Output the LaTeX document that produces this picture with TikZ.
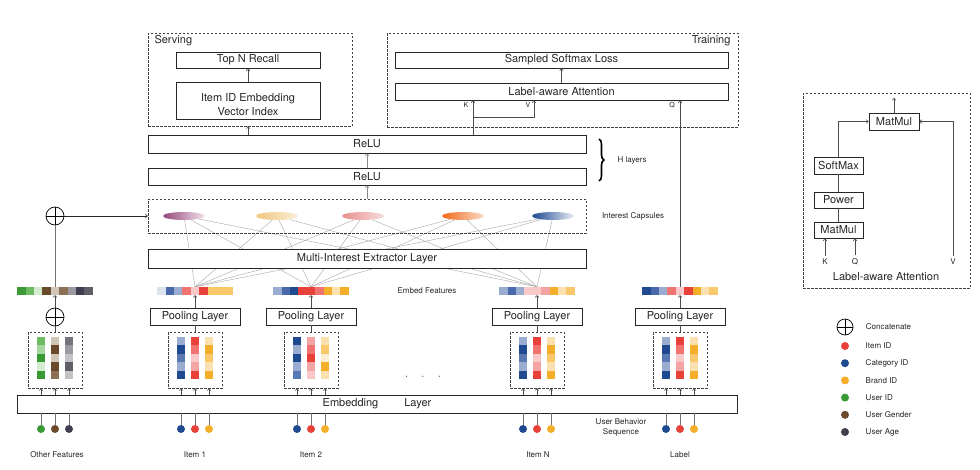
\documentclass[tikz,border=0pt]{standalone}
\usepackage{fontspec}
\setmainfont{TeX Gyre Heros}
\usetikzlibrary{arrows.meta,positioning,shapes.geometric,decorations.pathreplacing,backgrounds}

% palette
\definecolor{gD}{HTML}{3A9A35}
\definecolor{gM}{HTML}{6DBB60}
\definecolor{gA}{HTML}{A8D6A0}
\definecolor{gL}{HTML}{D3EBCF}
\definecolor{bnD}{HTML}{6B4A2B}
\definecolor{bnM}{HTML}{8C7055}
\definecolor{bnL}{HTML}{D2C6B8}
\definecolor{gyD}{HTML}{3F3F4F}
\definecolor{gyN}{HTML}{5E5E68}
\definecolor{gyS}{HTML}{74747E}
\definecolor{gyM}{HTML}{9A9AA0}
\definecolor{gyL}{HTML}{C2C2C7}
\definecolor{bD}{HTML}{1F4A92}
\definecolor{bM}{HTML}{4A69AA}
\definecolor{bS}{HTML}{5A78B4}
\definecolor{bL}{HTML}{9AACCF}
\definecolor{bXL}{HTML}{DCE2EE}
\definecolor{rD}{HTML}{E8413A}
\definecolor{rM}{HTML}{F07370}
\definecolor{rS}{HTML}{F4A4A2}
\definecolor{rL}{HTML}{F9C9C9}
\definecolor{aD}{HTML}{F5AE2A}
\definecolor{aM}{HTML}{F9C86A}
\definecolor{aL}{HTML}{FBE0B0}
\definecolor{aXL}{HTML}{FDEDD2}
\definecolor{capA}{HTML}{96477A}
\definecolor{capB}{HTML}{F0C77E}
\definecolor{capC}{HTML}{E88E8E}
\definecolor{capD}{HTML}{F06A1A}
\definecolor{capE}{HTML}{1F4A92}

% embed feature bar: name, centre x, nine colours
\newcommand{\featbar}[3]{%
  \foreach \col [count=\k from 0] in {#3}
    \fill[\col] ({#2-37.8+\k*8.4},287) rectangle ++(8.4,8);
  \node[inner sep=0pt, minimum width=75.6pt, minimum height=8pt] (#1) at (#2,291) {};
}
% embedding column: centre x, five colours top to bottom
\newcommand{\embcol}[2]{%
  \foreach \col [count=\k from 0] in {#2}
    \fill[\col] ({#1-4},{337+\k*8.4}) rectangle ++(8,8.4);
}

\begin{document}
\begin{tikzpicture}[
    x=1pt, y=-1pt,
    every node/.style={font=\fontsize{11}{13}\selectfont, text=black!85},
    layer/.style={rectangle, draw=black!85, line width=0.8pt, fill=white, inner sep=0pt},
    dashbox/.style={rectangle, draw=black!75, line width=0.6pt, dash pattern=on 2.5pt off 1.5pt, inner sep=0pt},
    smalltxt/.style={font=\fontsize{8}{10}\selectfont},
    kvq/.style={font=\fontsize{7}{8}\selectfont},
    conn/.style={draw=black!70, line width=0.6pt},
    arr/.style={conn, -{To[length=2.5pt,width=4pt]}},
    fan/.style={draw=black!35, line width=0.4pt},
    feed/.style={draw=black!55, line width=0.9pt},
    capsule/.style={ellipse, minimum width=42pt, minimum height=8pt, inner sep=0pt},
    dot/.style={circle, inner sep=0pt, minimum size=8pt},
    concat/.style={circle, draw=black, line width=0.7pt, minimum size=18pt, inner sep=0pt,
        path picture={\draw[line width=0.7pt]
            (path picture bounding box.north) -- (path picture bounding box.south)
            (path picture bounding box.west) -- (path picture bounding box.east);}},
]
\useasboundingbox (0,0) rectangle (980,469);

% serving and training
\node[dashbox, minimum width=204pt, minimum height=93pt] (serving) at (250,79.5) {};
\node[anchor=west] (servlbl) at (151,41) {Serving};
\node[layer, minimum width=144pt, minimum height=16pt] (topn) at (248,60) {Top N Recall};
\node[cylinder, shape border rotate=90, aspect=0.12, draw=black!85, line width=0.8pt,
    minimum width=144pt, minimum height=37pt, inner sep=0pt] (index) at (248,101.5) {};
\node[align=center, font=\fontsize{11}{13.5}\selectfont] (indextxt) at (248,104.5) {Item ID Embedding\\Vector Index};

\node[dashbox, minimum width=351pt, minimum height=94pt] (training) at (562.5,80) {};
\node[anchor=east] (trainlbl) at (734,41) {Training};
\node[layer, minimum width=333pt, minimum height=16pt] (loss) at (561.5,60) {Sampled Softmax Loss};
\node[layer, minimum width=333pt, minimum height=17pt] (attn) at (561.5,91.5) {Label-aware Attention};
\node[kvq] (klbl) at (466,105) {K};
\node[kvq] (vlbl) at (528,105) {V};
\node[kvq] (qlbl) at (672,105) {Q};

% H layers
\node[layer, minimum width=438pt, minimum height=18pt] (relu2) at (367,144) {ReLU};
\node[layer, minimum width=438pt, minimum height=17pt] (relu1) at (367,176.5) {ReLU};
\draw[decorate, decoration={brace, amplitude=5pt}, line width=1.6pt] (599,139) -- (599,181);
\node[smalltxt, anchor=west] (hlbl) at (614,160) {H layers};

% interest capsules
\node[dashbox, minimum width=438pt, minimum height=34pt] (capsbox) at (367,216) {};
\node[capsule, left color=capA, right color=capA!15] (cap1) at (184,216) {};
\node[capsule, left color=capB, right color=capB!30] (cap2) at (277,216) {};
\node[capsule, left color=capC, right color=capC!30] (cap3) at (363,216) {};
\node[capsule, left color=capD, right color=capD!25] (cap4) at (463,216) {};
\node[capsule, left color=capE, right color=capE!10] (cap5) at (553,216) {};
\node[smalltxt] (capslbl) at (633,216) {Interest Capsules};

\node[layer, minimum width=438pt, minimum height=19pt] (miel) at (367,258.5) {Multi-Interest Extractor Layer};

% embed features
\featbar{otherbar}{55}{gD,gM,gL,bnD,bnL,bnM,gyM,gyD,gyN}
\featbar{bar1}{195}{bXL,bM,bL,rM,rL,rD,aM,aM,aM}
\featbar{bar2}{311}{bL,bM,bD,rD,rD,rM,aD,aL,aD}
\featbar{barN}{537}{bL,bM,bL,rL,rL,rS,aD,aL,aM}
\featbar{lblbar}{680}{bD,bM,bL,rM,rL,rD,aD,aL,aM}
\node[smalltxt] (embedlbl) at (427,291) {Embed Features};

% pooling
\node[concat] (cat2) at (55,216) {};
\node[concat] (cat1) at (55,317) {};
\node[layer, minimum width=90pt, minimum height=17pt] (pool1) at (195,316.5) {Pooling Layer};
\node[layer, minimum width=90pt, minimum height=17pt] (pool2) at (311,316.5) {Pooling Layer};
\node[layer, minimum width=90pt, minimum height=17pt] (poolN) at (537,316.5) {Pooling Layer};
\node[layer, minimum width=90pt, minimum height=17pt] (poolL) at (680,316.5) {Pooling Layer};

% embedding vectors
\embcol{41}{gM,gA,gD,gL,gD}
\embcol{55}{bnL,bnD,bnL,bnD,bnM}
\embcol{69}{gyS,gyM,gyL,gyN,gyL}
\embcol{181}{bL,bD,bS,bL,bD}
\embcol{195}{rD,rM,rL,rS,rD}
\embcol{209}{aL,aD,aM,aL,aD}
\embcol{297}{bD,bL,bD,bL,bS}
\embcol{311}{rS,rM,rD,rS,rL}
\embcol{325}{aL,aM,aXL,aD,aL}
\embcol{523}{bL,bD,bS,bL,bD}
\embcol{537}{rD,rM,rL,rS,rD}
\embcol{551}{aL,aD,aM,aL,aD}
\embcol{666}{bL,bD,bS,bL,bD}
\embcol{680}{rD,rM,rL,rS,rD}
\embcol{694}{aL,aD,aM,aL,aD}
\node[dashbox, minimum width=54pt, minimum height=56pt] (grpO) at (55,360) {};
\node[dashbox, minimum width=54pt, minimum height=56pt] (grp1) at (195,360) {};
\node[dashbox, minimum width=54pt, minimum height=56pt] (grp2) at (311,360) {};
\node[dashbox, minimum width=54pt, minimum height=56pt] (grpN) at (537,360) {};
\node[dashbox, minimum width=54pt, minimum height=56pt] (grpL) at (680,360) {};
\node (ellip) at (423,377) {$\cdot\quad\cdot\quad\cdot$};

\node[layer, minimum width=720pt, minimum height=18pt] (emb) at (377,404) {Embedding\hspace{26pt}Layer};

% inputs
\foreach \g/\x in {O/55,1/195,2/311,N/537,L/680} {
  \coordinate (col\g a) at ({\x-14},395);
  \coordinate (col\g b) at (\x,395);
  \coordinate (col\g c) at ({\x+14},395);
}
\node[dot, fill=gD] (inOa) at (41,429) {};
\node[dot, fill=bnD] (inOb) at (55,429) {};
\node[dot, fill=gyD] (inOc) at (69,429) {};
\foreach \g/\x in {1/195,2/311,N/537,L/680} {
  \node[dot, fill=bD] (in\g a) at ({\x-14},429) {};
  \node[dot, fill=rD] (in\g b) at (\x,429) {};
  \node[dot, fill=aD] (in\g c) at ({\x+14},429) {};
}
\node[smalltxt] (lblO) at (57,455) {Other Features};
\node[smalltxt] (lbl1) at (195,455) {Item 1};
\node[smalltxt] (lbl2) at (311,455) {Item 2};
\node[smalltxt] (lblN) at (538,455) {Item N};
\node[smalltxt] (lblL) at (680,455) {Label};
\node[smalltxt, align=center] (ubs) at (621,427) {User Behavior\\Sequence};

% connectors
\foreach \g in {O,1,2,N,L}
  \foreach \c in {a,b,c} {
    \draw[feed] (in\g\c.north) -- (in\g\c.north |- emb.south);
    \draw[arr] (col\g\c) -- (col\g\c |- grp\g.south);
  }
\draw[conn] (grpO.north) -- (cat1.south);
\draw[arr] (cat1.north) -- (otherbar.south);
\draw[feed] (otherbar.north) -- (cat2.south);
\draw[arr, draw=black!85] (cat2.east) -- (capsbox.west);
\foreach \g/\p in {1/pool1,2/pool2,N/poolN,L/poolL}
  \draw[conn] (grp\g.north) -- (\p.south);
\draw[arr] (pool1.north) -- (bar1.south);
\draw[arr] (pool2.north) -- (bar2.south);
\draw[arr] (poolN.north) -- (barN.south);
\draw[arr] (poolL.north) -- (lblbar.south);
\begin{scope}[on background layer]
  \foreach \b in {bar1,bar2,barN}
    \foreach \c in {cap1,cap2,cap3,cap4,cap5}
      \draw[fan] (\b.north) -- (\c);
\end{scope}
\draw[arr, draw=black!45] (capsbox.north) -- (relu1.south);
\draw[arr, draw=black!45] (relu1.north) -- (relu2.south);
\draw[arr] (relu2.north -| index) -- (serving.south -| index);
\draw[arr] (index.north) -- (topn.south);
\coordinate (kfork) at (473,117);
\draw[arr] (relu2.north -| kfork) -- (kfork |- attn.south);
\draw[arr] (kfork) -| (vlbl.east |- attn.south);
\draw[arr] (lblbar.north) -- (lblbar.north |- attn.south);
\draw[arr] (attn.north) -- (loss.south);

% label-aware attention detail
\node[dashbox, minimum width=167pt, minimum height=195pt] (detail) at (886.5,190.5) {};
\node[layer, minimum width=50pt, minimum height=17pt] (mm2) at (894,121.5) {MatMul};
\node[layer, minimum width=49pt, minimum height=17pt] (smax) at (838.5,165.5) {SoftMax};
\node[layer, minimum width=49pt, minimum height=16pt] (power) at (838.5,200) {Power};
\node[layer, minimum width=49pt, minimum height=16pt] (mm1) at (838.5,230) {MatMul};
\node[smalltxt] (dk) at (825,262) {K};
\node[smalltxt] (dq) at (855,262) {Q};
\node[smalltxt] (dv) at (953,262) {V};
\node (dtitle) at (886,277) {Label-aware Attention};
\coordinate (dout) at (894,98);
\draw[arr] (mm2.north) -- (dout);
\draw[conn] (mm1.north) -- (power.south);
\draw[conn] (power.north) -- (smax.south);
\draw[arr] (smax.north) |- (mm2.west);
\draw[arr] (dv.north) |- (mm2.east);
\draw[arr] (dk.north) -- (dk.north |- mm1.south);
\draw[arr] (dq.north) -- (dq.north |- mm1.south);

% legend
\node[concat, minimum size=16pt] (lgcat) at (845,327) {};
\node[smalltxt, right=9pt of lgcat] (lgcattxt) {Concatenate};
\foreach \c/\t [count=\i] in {rD/Item ID, bD/Category ID, aD/Brand ID, gD/User ID, bnD/User Gender, gyD/User Age} {
  \node[dot, fill=\c] (lg\i) at (845,{346+17.2*(\i-1)}) {};
  \node[smalltxt, right=13pt of lg\i] (lgtxt\i) {\t};
}
\end{tikzpicture}
\end{document}
